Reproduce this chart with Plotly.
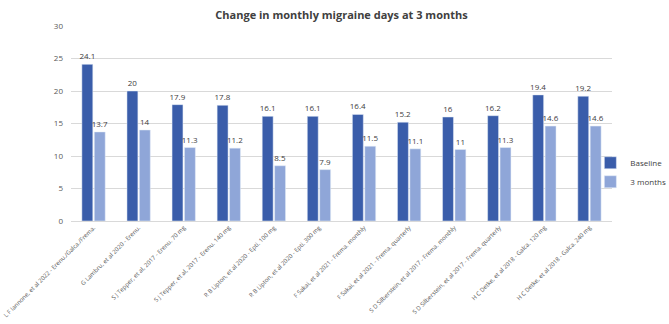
import plotly.graph_objects as go

categories = [
    "L F Iannone, et al 2022 - Erenu./Galca./Frema.",
    "G Lambru, et al 2020 - Erenu.",
    "S J Tepper, et al, 2017 - Erenu. 70 mg",
    "S J Tepper, et al, 2017 - Erenu. 140 mg",
    "R B Lipton, et al 2020 - Epti. 100 mg",
    "R B Lipton, et al 2020 - Epti. 300 mg",
    "F Sakai, et al 2021 - Frema. monthly",
    "F Sakai, et al 2021 - Frema. quarterly",
    "S D Silberstein, et al 2017 - Frema. monthly",
    "S D Silberstein, et al 2017 - Frema. quarterly",
    "H C Detke, et al 2018 - Galca. 120 mg",
    "H C Detke, et al 2018 - Galca. 240 mg",
]
baseline = [24.1, 20, 17.9, 17.8, 16.1, 16.1, 16.4, 15.2, 16, 16.2, 19.4, 19.2]
three_months = [13.7, 14, 11.3, 11.2, 8.5, 7.9, 11.5, 11.1, 11, 11.3, 14.6, 14.6]

font_family = "Open Sans, Noto Sans, sans-serif"

fig = go.Figure()
fig.add_trace(go.Bar(
    name="Baseline", x=categories, y=baseline,
    marker_color="#3a5daa",
    text=[f"{v:g}" for v in baseline], textposition="outside",
    textfont=dict(size=8, color="#404040"), cliponaxis=False,
    constraintext="none",
))
fig.add_trace(go.Bar(
    name="3 months", x=categories, y=three_months,
    marker_color="#8fa6d8",
    text=[f"{v:g}" for v in three_months], textposition="outside",
    textfont=dict(size=8, color="#404040"), cliponaxis=False,
    constraintext="none",
))

fig.update_layout(
    width=669, height=324,
    margin=dict(l=71, r=57, t=26, b=103, autoexpand=False),
    paper_bgcolor="white", plot_bgcolor="white",
    font=dict(family=font_family, color="#595959"),
    title=dict(text="<b>Change in monthly migraine days at 3 months</b>",
               x=0.5, xanchor="center", xref="paper",
               y=0.965, yanchor="top", yref="container",
               font=dict(size=11, color="#404040")),
    barmode="group", bargap=0.45, bargroupgap=0.12,
    uniformtext=dict(minsize=8, mode="show"),
    showlegend=True,
    legend=dict(x=0.96, y=0.25, xanchor="left", yanchor="middle",
                font=dict(size=8, color="#404040"), tracegroupgap=0,
                itemwidth=30, bgcolor="rgba(0,0,0,0)"),
)
fig.update_xaxes(
    tickangle=-45, tickfont=dict(size=6, color="#595959"),
    showline=True, linecolor="#d9d9d9", linewidth=1,
    ticks="", showgrid=False, automargin=False,
)
fig.update_yaxes(
    range=[0, 30], dtick=5, tickfont=dict(size=8, color="#595959"),
    showgrid=True, gridcolor="#d9d9d9", gridwidth=1,
    zeroline=False, showline=False, ticks="", automargin=False,
    ticklabelstandoff=7,
)

fig.write_html("out.html", config={"displayModeBar": False},
               post_script="document.body.style.margin='0';")
